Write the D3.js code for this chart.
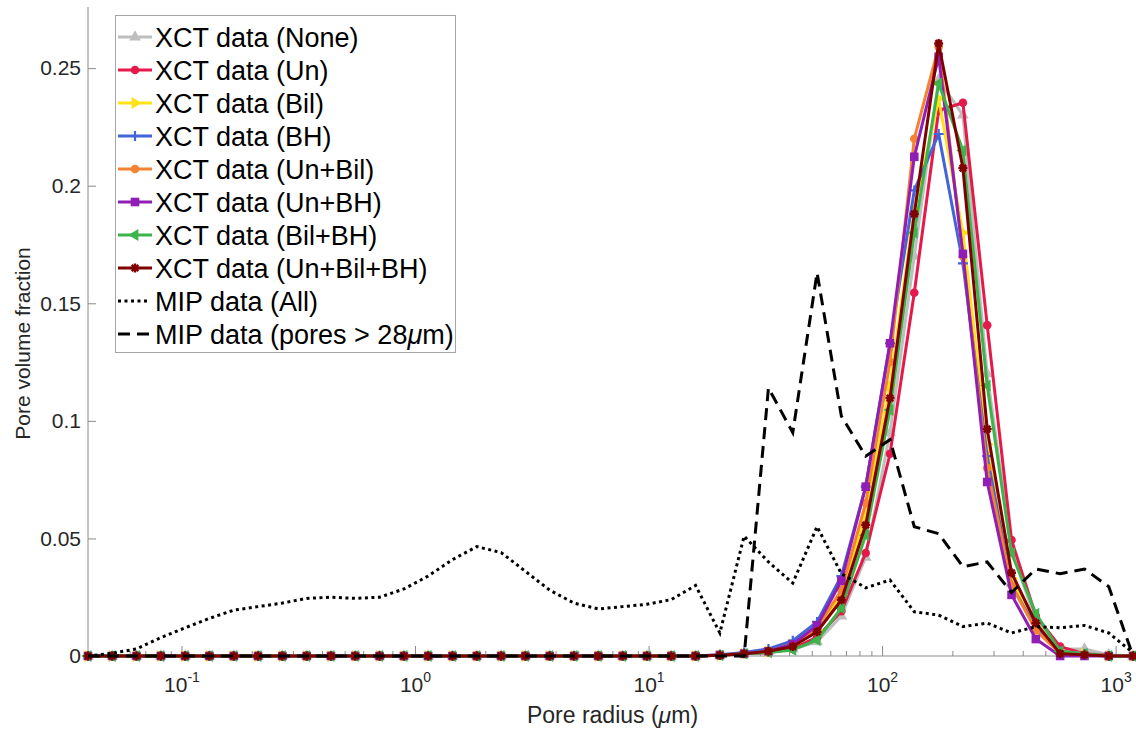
<!DOCTYPE html>
<html>
<head>
<meta charset="utf-8">
<script src="https://cdn.jsdelivr.net/npm/d3@7"></script>
<style>
  body { margin: 0; background: #fff; }
  svg { display: block; font-family: "Liberation Sans", Arial, sans-serif; }
</style>
</head>
<body>
<svg id="chart" width="1136" height="729"></svg>
<script>
// Pore radius bins (µm), shared by the XCT and MIP distributions
const radius = [0.0396,0.0503,0.0639,0.0812,0.1032,0.1311,0.1666,0.2118,0.2692,0.342,
  0.4346,0.5523,0.7018,0.8919,1.133,1.44,1.83,2.326,2.956,3.756,
  4.773,6.066,7.709,9.795,12.45,15.82,20.1,25.54,32.46,41.25,
  52.42,66.62,84.66,107.6,136.7,173.8,220.8,280.5,356.6,453.2,
  575.7,731.6,929.9,1181];

// XCT pore volume fractions for each filter combination
const xctNone = [0,0,0,0,0,0,0,0,0,0,0,0,0,0,0,0,0,0,0,0,0,0,0,0,0,0,
  0.0003,0.001,0.0015,0.003,0.006,0.017,0.042,0.095,0.17,0.245,0.23,0.12,0.045,0.015,0.003,0.003,0.0005,0];
const xctUn = [0,0,0,0,0,0,0,0,0,0,0,0,0,0,0,0,0,0,0,0,0,0,0,0,0,0,
  0.0003,0.001,0.0015,0.003,0.008,0.019,0.0438,0.086,0.1545,0.232,0.2353,0.1407,0.0493,0.017,0.004,0.001,0.0003,0];
const xctBil = [0,0,0,0,0,0,0,0,0,0,0,0,0,0,0,0,0,0,0,0,0,0,0,0,0,0,
  0.0003,0.001,0.002,0.005,0.011,0.026,0.06,0.115,0.19,0.237,0.18,0.09,0.033,0.012,0.002,0.001,0,0];
const xctBH = [0,0,0,0,0,0,0,0,0,0,0,0,0,0,0,0,0,0,0,0,0,0,0,0,0,0,
  0.0005,0.0015,0.003,0.0065,0.0145,0.034,0.072,0.133,0.198,0.222,0.167,0.085,0.03,0.012,0.002,0.001,0,0];
const xctUnBil = [0,0,0,0,0,0,0,0,0,0,0,0,0,0,0,0,0,0,0,0,0,0,0,0,0,0,
  0.0004,0.001,0.002,0.005,0.012,0.028,0.065,0.125,0.22,0.259,0.17,0.08,0.03,0.011,0.001,0.0005,0,0];
const xctUnBH = [0,0,0,0,0,0,0,0,0,0,0,0,0,0,0,0,0,0,0,0,0,0,0,0,0,0,
  0.0004,0.001,0.002,0.005,0.013,0.032,0.072,0.133,0.2123,0.2548,0.171,0.074,0.026,0.0072,0,0,0,0];
const xctBilBH = [0,0,0,0,0,0,0,0,0,0,0,0,0,0,0,0,0,0,0,0,0,0,0,0,0,0,
  0.0003,0.001,0.0015,0.0026,0.0068,0.0204,0.0514,0.1046,0.18,0.2435,0.215,0.115,0.0437,0.018,0.002,0.001,0,0];
const xctUnBilBH = [0,0,0,0,0,0,0,0,0,0,0,0,0,0,0,0,0,0,0,0,0,0,0,0,0,0,
  0.0003,0.001,0.002,0.004,0.0103,0.0238,0.0557,0.1097,0.188,0.2605,0.2075,0.0965,0.0354,0.014,0.001,0.0005,0,0];

// MIP pore volume fractions
const mipAll = [0,0.0012,0.003,0.0078,0.012,0.016,0.0195,0.021,0.0225,0.0245,
  0.025,0.0245,0.025,0.0285,0.034,0.041,0.0465,0.044,0.036,0.028,
  0.0225,0.02,0.021,0.022,0.024,0.03,0.0098,0.051,0.04,0.031,
  0.055,0.035,0.029,0.0323,0.0188,0.0174,0.0125,0.014,0.0098,0.0125,
  0.012,0.013,0.0098,0.0014];
const mipLarge = [0,0,0,0,0,0,0,0,0,0,0,0,0,0,0,0,0,0,0,0,0,0,0,0,0,0,0,0,
  0.114,0.095,0.163,0.102,0.085,0.092,0.055,0.052,0.038,0.04,0.027,0.037,0.035,0.037,0.0295,0];

const seriesNames = ["XCT data (None)","XCT data (Un)","XCT data (Bil)","XCT data (BH)",
  "XCT data (Un+Bil)","XCT data (Un+BH)","XCT data (Bil+BH)","XCT data (Un+Bil+BH)"];
const seriesValues = [xctNone, xctUn, xctBil, xctBH, xctUnBil, xctUnBH, xctBilBH, xctUnBilBH];
const seriesColors = ["#bebebe","#e6194b","#ffe119","#4363d8","#f58231","#911eb4","#3cb44b","#800000"];
const seriesMarkers = ["triUp","circle","triRight","plus","circle","square","triLeft","star"];

const mipNames = ["MIP data (All)", "MIP data (pores > 28"];
const yTicks = [0, 0.05, 0.1, 0.15, 0.2, 0.25];
const xDecades = [-1, 0, 1, 2, 3];

const svg = d3.select("#chart");
const plotLeft = 88, plotRight = 1133, plotBottom = 656, plotTop = 7;

const x = d3.scaleLog().domain([radius[0], radius[radius.length - 1]]).range([plotLeft, plotRight]);
const y = d3.scaleLinear().domain([0, 0.276]).range([plotBottom, plotTop]);

const axisColor = "#8a8a8a";
const textColor = "#262626";

// ---- y axis (ticks point inward)
const yAxis = svg.append("g").attr("transform", `translate(${plotLeft},0)`)
  .call(d3.axisLeft(y).tickValues(yTicks).tickSizeInner(-8).tickSizeOuter(0).tickPadding(7)
    .tickFormat(d3.format("~g")));
yAxis.select(".domain").attr("stroke", axisColor).attr("d", `M0,${plotBottom}V${plotTop}`);
yAxis.selectAll(".tick line").attr("stroke", axisColor);
yAxis.selectAll(".tick text").attr("fill", textColor).style("font-size", "21px")
  .style("font-family", "'Liberation Sans', Arial, sans-serif");

// ---- x axis (log, major + minor ticks pointing inward)
const gx = svg.append("g");
gx.append("line").attr("x1", plotLeft).attr("x2", plotRight).attr("y1", plotBottom).attr("y2", plotBottom)
  .attr("stroke", axisColor);
const minor = [];
for (let e = -2; e <= 3; e++) for (let m = 2; m <= 9; m++) {
  const v = m * Math.pow(10, e);
  if (v > x.domain()[0] && v < x.domain()[1]) minor.push(v);
}
gx.selectAll("line.minor").data(minor).join("line").attr("class", "minor")
  .attr("x1", d => x(d)).attr("x2", d => x(d)).attr("y1", plotBottom).attr("y2", plotBottom - 5)
  .attr("stroke", axisColor);
gx.selectAll("line.major").data(xDecades).join("line").attr("class", "major")
  .attr("x1", d => x(Math.pow(10, d))).attr("x2", d => x(Math.pow(10, d)))
  .attr("y1", plotBottom).attr("y2", plotBottom - 10).attr("stroke", axisColor);
const xl = gx.selectAll("text.xl").data(xDecades).join("text").attr("class", "xl")
  .attr("x", d => x(Math.pow(10, d))).attr("y", 692).attr("text-anchor", "middle")
  .attr("fill", textColor).style("font-size", "21px");
xl.append("tspan").text("10");
xl.append("tspan").attr("dy", -10).style("font-size", "14px").text(d => d < 0 ? "-" + (-d) : String(d));

// ---- axis titles
const xTitle = svg.append("text").attr("x", (plotLeft + plotRight) / 2 + 2).attr("y", 723)
  .attr("text-anchor", "middle").attr("fill", textColor).style("font-size", "23px");
xTitle.append("tspan").text("Pore radius (");
xTitle.append("tspan").style("font-style", "italic").text("\u03bc");
xTitle.append("tspan").text("m)");

svg.append("text").attr("transform", `translate(30,${(plotTop + plotBottom) / 2 + 12}) rotate(-90)`)
  .attr("text-anchor", "middle").attr("fill", textColor).style("font-size", "21px")
  .text("Pore volume fraction");

// ---- marker drawing
function drawMarker(g, type, color, cx, cy) {
  const s = 4.3;
  if (type === "circle") {
    g.append("circle").attr("cx", cx).attr("cy", cy).attr("r", s).attr("fill", color);
  } else if (type === "square") {
    g.append("rect").attr("x", cx - s).attr("y", cy - s).attr("width", 2 * s).attr("height", 2 * s).attr("fill", color);
  } else if (type === "triUp" || type === "triRight" || type === "triLeft") {
    const rot = type === "triUp" ? 0 : type === "triRight" ? 90 : -90;
    g.append("path").attr("d", d3.symbol(d3.symbolTriangle, 60)())
      .attr("transform", `translate(${cx},${cy}) rotate(${rot})`).attr("fill", color);
  } else if (type === "plus") {
    g.append("path").attr("d", `M${cx - 5},${cy}H${cx + 5}M${cx},${cy - 5}V${cy + 5}`)
      .attr("stroke", color).attr("stroke-width", 2.2);
  } else if (type === "star") {
    const r = 4.5, d = r * 0.72;
    g.append("path").attr("d",
      `M${cx - r},${cy}H${cx + r}M${cx},${cy - r}V${cy + r}M${cx - d},${cy - d}L${cx + d},${cy + d}M${cx - d},${cy + d}L${cx + d},${cy - d}`)
      .attr("stroke", color).attr("stroke-width", 2.4);
  }
}

// ---- XCT series
const line = d3.line().x((d, i) => x(radius[i])).y(d => y(d));
const plot = svg.append("g");
seriesValues.forEach((vals, k) => {
  const g = plot.append("g");
  g.append("path").attr("d", line(vals)).attr("fill", "none")
    .attr("stroke", seriesColors[k]).attr("stroke-width", 3).attr("stroke-linejoin", "round");
  vals.forEach((v, i) => drawMarker(g, seriesMarkers[k], seriesColors[k], x(radius[i]), y(v)));
});

// ---- MIP series
plot.append("path").attr("d", line(mipAll)).attr("fill", "none").attr("stroke", "#000")
  .attr("stroke-width", 3).attr("stroke-dasharray", "3,3.5");
plot.append("path").attr("d", line(mipLarge)).attr("fill", "none").attr("stroke", "#000")
  .attr("stroke-width", 3).attr("stroke-dasharray", "12,7");

// ---- legend
const lg = svg.append("g");
lg.append("rect").attr("x", 115.5).attr("y", 15.5).attr("width", 340).attr("height", 337)
  .attr("fill", "#fff").attr("stroke", "#a6a6a6").attr("stroke-width", 1);
const rowY = k => 37 + 33 * k;
seriesNames.forEach((name, k) => {
  const yy = rowY(k);
  const g = lg.append("g");
  g.append("line").attr("x1", 118).attr("x2", 152).attr("y1", yy).attr("y2", yy)
    .attr("stroke", seriesColors[k]).attr("stroke-width", 3);
  drawMarker(g, seriesMarkers[k], seriesColors[k], 135, yy);
  g.append("text").attr("x", 155).attr("y", yy + 9.5).attr("fill", "#000")
    .style("font-size", "27px").text(name);
});
const mipDash = ["3,3.5", "12,7"];
mipNames.forEach((name, j) => {
  const yy = rowY(8 + j);
  lg.append("line").attr("x1", 118).attr("x2", 150).attr("y1", yy).attr("y2", yy)
    .attr("stroke", "#000").attr("stroke-width", 3).attr("stroke-dasharray", mipDash[j]);
  const t = lg.append("text").attr("x", 155).attr("y", yy + 9.5).attr("fill", "#000")
    .style("font-size", "27px");
  t.append("tspan").text(name);
  if (j === 1) {
    t.append("tspan").style("font-style", "italic").text("\u03bc");
    t.append("tspan").text("m)");
  }
});
</script>
</body>
</html>
